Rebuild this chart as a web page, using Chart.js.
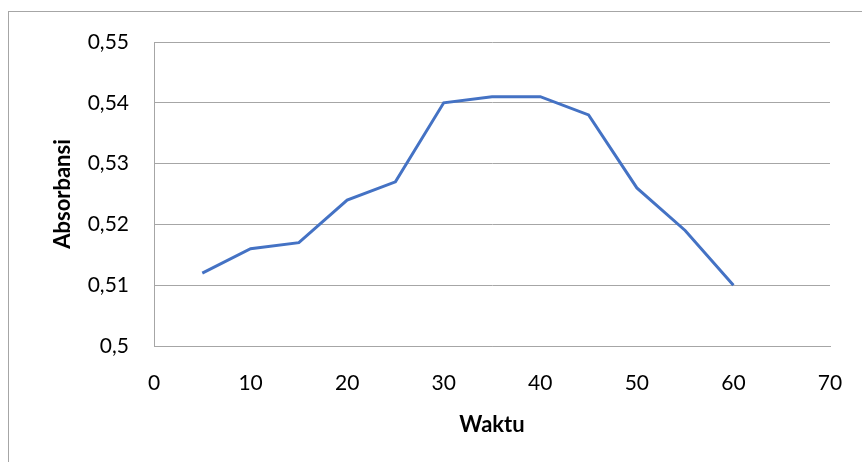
<!DOCTYPE html>
<html>
<head>
<meta charset="utf-8">
<script src="https://cdn.jsdelivr.net/npm/chart.js@4"></script>
<style>
  html, body { margin: 0; padding: 0; background: #fff; }
  #wrap { width: 862px; height: 462px; position: relative; }
</style>
</head>
<body>
<div id="wrap"><canvas id="chart" width="862" height="462"></canvas></div>
<script>
const waktu = [5, 10, 15, 20, 25, 30, 35, 40, 45, 50, 55, 60];
const absorbansi = [0.512, 0.516, 0.517, 0.524, 0.527, 0.540, 0.541, 0.541, 0.538, 0.526, 0.519, 0.510];
const xTicks = [0, 10, 20, 30, 40, 50, 60, 70];
const yTicks = [0.5, 0.51, 0.52, 0.53, 0.54, 0.55];
const yTickLabels = ['0,5', '0,51', '0,52', '0,53', '0,54', '0,55'];

const fontFamily = 'Lato, "Open Sans", sans-serif';
const gridColor = '#a6a6a6';

// outer frame of the chart box (right and bottom edges fall outside the picture)
const framePlugin = {
    id: 'frame',
    beforeDraw(chart) {
        const ctx = chart.ctx;
        ctx.save();
        ctx.strokeStyle = '#a6a6a6';
        ctx.lineWidth = 1;
        ctx.strokeRect(8.5, 11.5, 1000, 1000);
        ctx.restore();
    }
};

const ctx = document.getElementById('chart').getContext('2d');
new Chart(ctx, {
    type: 'line',
    data: {
        datasets: [{
            label: 'Absorbansi',
            data: waktu.map((x, i) => ({ x: x, y: absorbansi[i] })),
            borderColor: '#4472C4',
            borderWidth: 3,
            pointRadius: 0,
            tension: 0,
            fill: false
        }]
    },
    options: {
        responsive: false,
        animation: false,
        layout: { padding: { left: 0, right: 32, top: 42, bottom: 0 } },
        plugins: {
            legend: { display: false },
            tooltip: { enabled: false }
        },
        scales: {
            x: {
                type: 'linear',
                min: 0,
                max: 70,
                afterBuildTicks: axis => { axis.ticks = xTicks.map(v => ({ value: v })); },
                afterFit: axis => {
                    axis.height = 116;
                    axis.paddingLeft = 0;
                    axis.paddingRight = 0;
                },
                grid: { display: false, drawTicks: false },
                border: { display: true, color: gridColor, width: 1 },
                ticks: {
                    color: '#000',
                    font: { family: fontFamily, size: 21 },
                    padding: 25,
                    maxRotation: 0
                },
                title: {
                    display: true,
                    text: 'Waktu',
                    color: '#000',
                    font: { family: fontFamily, size: 22, weight: 'bold' },
                    padding: { top: 0, bottom: 24 }
                }
            },
            y: {
                min: 0.5,
                max: 0.55,
                afterBuildTicks: axis => { axis.ticks = yTicks.map(v => ({ value: v })); },
                afterFit: axis => {
                    axis.width = 154;
                    axis.paddingTop = 0;
                    axis.paddingBottom = 0;
                },
                grid: { color: gridColor, lineWidth: 1, drawTicks: false },
                border: { display: true, color: gridColor, width: 1 },
                ticks: {
                    color: '#000',
                    font: { family: fontFamily, size: 21 },
                    padding: 25,
                    callback: (v, i) => yTickLabels[i]
                },
                title: {
                    display: true,
                    text: 'Absorbansi',
                    color: '#000',
                    font: { family: fontFamily, size: 22, weight: 'bold' },
                    padding: { top: 50, bottom: 0 }
                }
            }
        }
    },
    plugins: [framePlugin]
});
</script>
</body>
</html>
